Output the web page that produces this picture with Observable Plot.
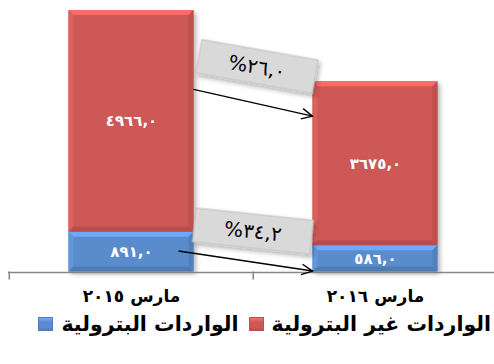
<!DOCTYPE html>
<html><head><meta charset="utf-8">
<script src="https://cdn.jsdelivr.net/npm/d3@7"></script>
<script src="https://cdn.jsdelivr.net/npm/@observablehq/plot@0.6"></script>
<style>
html,body{margin:0;padding:0;background:#fff;}
body{width:494px;height:364px;overflow:hidden;font-family:"DejaVu Sans",sans-serif;}
#chart svg{display:block;}
.legend{direction:rtl;display:flex;align-items:center;justify-content:flex-start;font-weight:bold;font-size:20.5px;color:#000;padding-right:3px;margin-top:0px;height:28px;}
.legend .item{display:flex;align-items:center;}
.legend .sw{width:15px;height:14px;margin:0 8px 0 10px;box-sizing:border-box;}
</style></head><body><div id="chart"></div><script>
// ---- data ----
const categories = ["مارس ٢٠١٥", "مارس ٢٠١٦"];
const seriesNames = ["الواردات البترولية", "الواردات غير البترولية"];
const petroleum = [891.0, 586.0];
const nonPetroleum = [4966.0, 3675.0];
const changeLabels = ["%٢٦,٠", "%٣٤,٢"];
const changeBoxValue = [4590, 905];
const arrowFromValue = [4080, 460];
const arrowToValue = [3480, 10];
const colors = ["#5A8CCD", "#CD5956"];

const toAr = s => s.replace(/\d/g, d => "٠١٢٣٤٥٦٧٨٩"[+d]);
const fmt = v => toAr(v.toFixed(1)).replace(".", ",");

const rows = categories.flatMap((c, i) => [
  {cat: c, series: seriesNames[0], value: petroleum[i]},
  {cat: c, series: seriesNames[1], value: nonPetroleum[i]}
]);

const W = 494, H = 310, ML = 8, MR = -3;
const step = (W - MR - ML) / categories.length;

const plot = Plot.plot({
  width: W, height: H,
  marginLeft: ML, marginRight: MR, marginTop: 10, marginBottom: 38.5,
  style: {fontFamily: '"DejaVu Sans", sans-serif', background: "transparent", overflow: "visible"},
  x: {domain: categories, padding: 0, label: null},
  y: {domain: [0, petroleum[0] + nonPetroleum[0]], axis: null},
  color: {domain: seriesNames, range: colors},
  marks: [
    Plot.barY(rows, {x: "cat", y: "value", fill: "series", insetLeft: 59.5, insetRight: 59.5}),
    Plot.text(rows, Plot.stackY({x: "cat", y: "value", text: d => fmt(d.value), fill: "white", fontWeight: "bold", fontSize: 15, letterSpacing: 3.5})),
    Plot.ruleY([0], {stroke: "#868686", strokeWidth: 1.6, dy: 0.5}),
    Plot.axisX({tickSize: 8, dx: -step / 2, tickFormat: () => "", stroke: "#868686", strokeWidth: 1.5}),
    Plot.axisX({tickSize: 0, tickPadding: 18, fontSize: 17, fontWeight: "bold", fill: "#000"})
  ]
});

// ---- post: bevel, annotations ----
const svg = d3.select(plot.tagName === "svg" ? plot : plot.querySelector("svg"));
const xs = plot.scale("x"), ys = plot.scale("y");
const defs = svg.insert("defs", ":first-child");
const f = defs.append("filter").attr("id", "shd").attr("x", "-20%").attr("y", "-20%").attr("width", "150%").attr("height", "150%");
f.append("feDropShadow").attr("dx", 2.5).attr("dy", 2.5).attr("stdDeviation", 2).attr("flood-color", "#000").attr("flood-opacity", 0.3);

const barG = svg.select('g[aria-label="bar"]');
barG.attr("filter", "url(#shd)");
const bev = svg.insert("g", 'g[aria-label="text"]');
barG.selectAll("rect").each(function () {
  const r = d3.select(this);
  const x = +r.attr("x"), y = +r.attr("y"), w = +r.attr("width"), h = +r.attr("height");
  const c = d3.color(r.attr("fill"));
  const b = 5;
  const poly = (pts, fill) => bev.append("polygon").attr("points", pts.map(p => p.join(",")).join(" ")).attr("fill", fill);
  poly([[x, y], [x + w, y], [x + w - b, y + b], [x + b, y + b]], c.brighter(0.55).formatHex());
  poly([[x, y], [x + b, y + b], [x + b, y + h - b], [x, y + h]], c.brighter(0.2).formatHex());
  poly([[x + w, y], [x + w, y + h], [x + w - b, y + h - b], [x + w - b, y + b]], c.darker(0.25).formatHex());
  poly([[x, y + h], [x + b, y + h - b], [x + w - b, y + h - b], [x + w, y + h]], c.darker(0.35).formatHex());
});

const ann = svg.append("g");
const bw = xs.bandwidth, inset = 59.5;
const leftBarRight = xs.apply(categories[0]) + bw - inset;
const rightBarLeft = xs.apply(categories[1]) + inset;
const mid = xs.apply(categories[1]);
const arrowStartDx = [0, -15];
const boxDx = [4, 0], boxAngle = [10, 6];

function arrow(x1, y1, x2, y2) {
  const g = ann.append("g").attr("stroke", "#000").attr("stroke-width", 1.4).attr("fill", "none");
  g.append("line").attr("x1", x1).attr("y1", y1).attr("x2", x2).attr("y2", y2);
  const a = Math.atan2(y2 - y1, x2 - x1), L = 12, s = 0.45;
  g.append("polyline").attr("points",
    [[x2 - L * Math.cos(a - s), y2 - L * Math.sin(a - s)], [x2, y2], [x2 - L * Math.cos(a + s), y2 - L * Math.sin(a + s)]]
      .map(p => p.join(",")).join(" "));
}
changeLabels.forEach((lab, i) => {
  arrow(leftBarRight + arrowStartDx[i], ys.apply(arrowFromValue[i]), rightBarLeft, ys.apply(arrowToValue[i]));
  const g = ann.append("g").attr("transform", `translate(${mid + boxDx[i]},${ys.apply(changeBoxValue[i])}) rotate(${boxAngle[i]})`);
  g.append("rect").attr("x", -59).attr("y", -17).attr("width", 118).attr("height", 34)
    .attr("fill", "#D9D9D9").attr("stroke", "#BFBFBF").attr("stroke-width", 1).attr("filter", "url(#shd)");
  g.append("text").attr("text-anchor", "middle").attr("dy", "0.36em").attr("font-size", 20)
    .attr("font-family", '"DejaVu Sans", sans-serif').attr("fill", "#000").attr("letter-spacing", 1.5).text(lab);
});

document.getElementById("chart").appendChild(plot);

// ---- legend ----
const leg = d3.select("body").append("div").attr("class", "legend");
[1, 0].forEach(i => {
  const it = leg.append("div").attr("class", "item");
  it.append("span").text(seriesNames[i]);
  const c = d3.color(colors[i]);
  it.append("span").attr("class", "sw")
    .style("background", `linear-gradient(${c.brighter(0.6).formatHex()} 0, ${c.formatHex()} 35%, ${c.formatHex()} 75%, ${c.darker(0.3).formatHex()} 100%)`)
    .style("border", `1px solid ${c.darker(0.3).formatHex()}`);
});
</script></body></html>
